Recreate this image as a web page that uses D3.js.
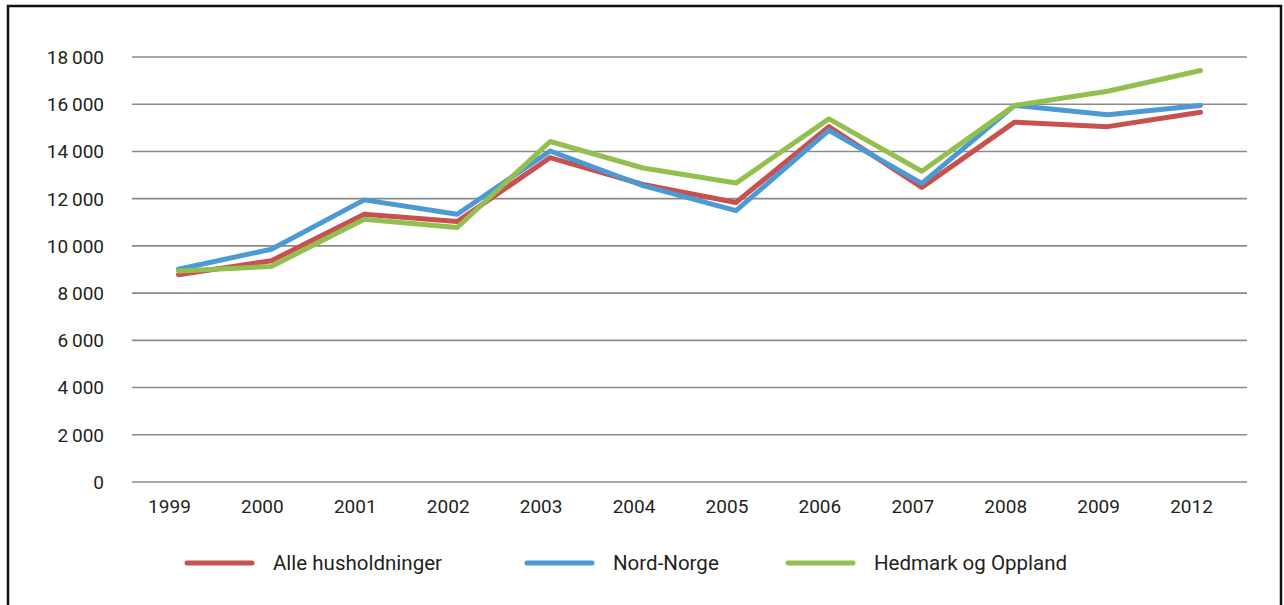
<!DOCTYPE html>
<html>
<head>
<meta charset="utf-8">
<script src="https://cdn.jsdelivr.net/npm/d3@7"></script>
<style>
  body { margin: 0; background: #fff; }
  svg { display: block; font-family: Roboto, "Open Sans", sans-serif; }
</style>
</head>
<body>
<svg width="1284" height="605"></svg>
<script>
const years = ['1999', '2000', '2001', '2002', '2003', '2004', '2005', '2006', '2007', '2008', '2009', '2012']
const alle = [8780, 9370, 11340, 11030, 13740, 12600, 11840, 15050, 12480, 15240, 15050, 15660]
const nord = [9010, 9860, 11950, 11340, 14020, 12550, 11490, 14890, 12650, 15950, 15550, 15950]
const hedmark = [8940, 9130, 11130, 10780, 14420, 13300, 12660, 15380, 13160, 15950, 16550, 17430]
const yTicks = [0, 2000, 4000, 6000, 8000, 10000, 12000, 14000, 16000, 18000]

const series = [
  { name: 'Alle husholdninger', values: alle, color: '#c8504f', lx: 187 },
  { name: 'Nord-Norge', values: nord, color: '#4b9ad5', lx: 527 },
  { name: 'Hedmark og Oppland', values: hedmark, color: '#93bf50', lx: 788 }
]

const svg = d3.select('svg')
const plotLeft = 132
const plotRight = 1247
const plotTop = 57
const plotBottom = 482

// frame round the whole figure
svg.append('rect')
  .attr('x', 8).attr('y', 6)
  .attr('width', 1273).attr('height', 620)
  .attr('fill', 'none')
  .attr('stroke', '#111')
  .attr('stroke-width', 2.5)

const x = d3.scaleBand().domain(years).range([plotLeft, plotRight])
const y = d3.scaleLinear().domain([0, 18000]).range([plotBottom, plotTop])

const fmt = v => d3.format(',')(v).replace(/,/g, '\u2009')

// grid lines
svg.append('g')
  .selectAll('line')
  .data(yTicks)
  .join('line')
  .attr('x1', plotLeft).attr('x2', plotRight)
  .attr('y1', d => y(d)).attr('y2', d => y(d))
  .attr('stroke', '#8a8a8a')
  .attr('stroke-width', 1.6)

// y axis labels
svg.append('g')
  .selectAll('text')
  .data(yTicks)
  .join('text')
  .attr('x', 104)
  .attr('y', d => y(d))
  .attr('dy', '0.36em')
  .attr('text-anchor', 'end')
  .attr('font-size', 19)
  .attr('fill', '#231f20')
  .text(d => fmt(d))

// x axis labels (sit a bit left of the points, as in the original)
svg.append('g')
  .selectAll('text')
  .data(years)
  .join('text')
  .attr('x', d => x(d) + x.bandwidth() / 2 - 9)
  .attr('y', 513)
  .attr('text-anchor', 'middle')
  .attr('font-size', 19)
  .attr('fill', '#231f20')
  .text(d => d)

const line = d3.line()
  .x((d, i) => x(years[i]) + x.bandwidth() / 2)
  .y(d => y(d))

svg.append('g')
  .selectAll('path')
  .data(series)
  .join('path')
  .attr('d', d => line(d.values))
  .attr('fill', 'none')
  .attr('stroke', d => d.color)
  .attr('stroke-width', 5)
  .attr('stroke-linejoin', 'round')
  .attr('stroke-linecap', 'round')

// legend
const legend = svg.append('g')
  .selectAll('g')
  .data(series)
  .join('g')
  .attr('transform', d => `translate(${d.lx},563)`)

legend.append('line')
  .attr('x1', 0).attr('x2', 65)
  .attr('stroke', d => d.color)
  .attr('stroke-width', 5)
  .attr('stroke-linecap', 'round')

legend.append('text')
  .attr('x', 86)
  .attr('dy', '0.36em')
  .attr('font-size', 20.5)
  .attr('fill', '#231f20')
  .text(d => d.name)
</script>
</body>
</html>
